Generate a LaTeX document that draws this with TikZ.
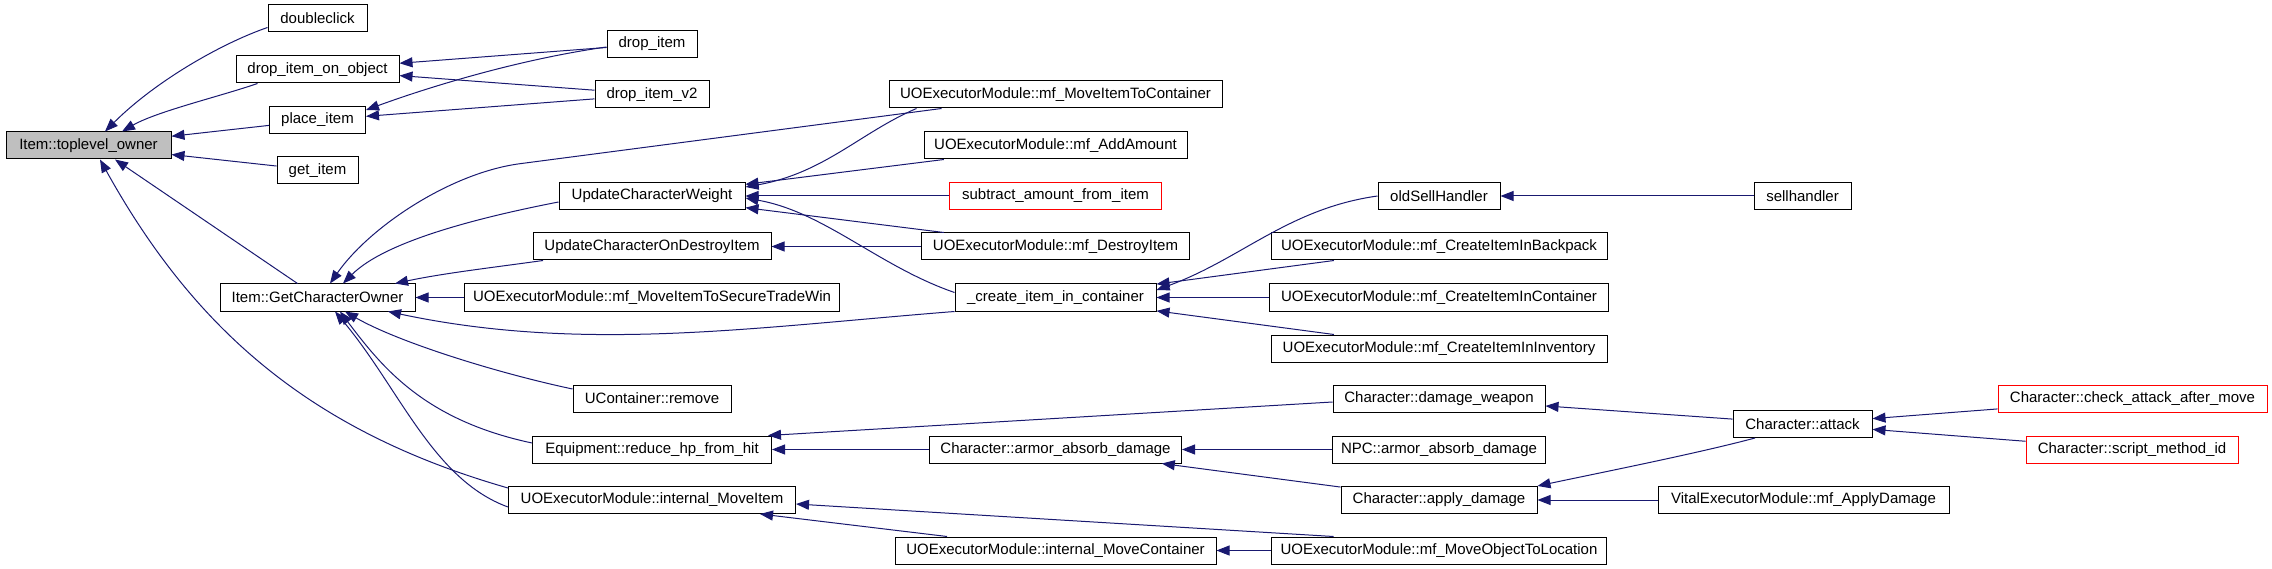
\documentclass[tikz,border=0pt]{standalone}
\usepackage{fontspec}
\setmainfont{Liberation Sans}
\usepackage{tikz}
\usetikzlibrary{arrows.meta}
\definecolor{edgeblue}{RGB}{25, 25, 112}
\definecolor{boxred}{RGB}{255, 0, 0}
\definecolor{boxgray}{RGB}{191, 191, 191}

\begin{document}
\begin{tikzpicture}[x=1pt, y=1pt,
  fn/.style={draw=black, line width=1pt, inner sep=0pt, minimum height=27,
    font=\fontsize{15}{18}\selectfont},
  undoc/.style={fn, draw=boxred},
  call/.style={draw=edgeblue, line width=1pt, -{Triangle[length=13pt, width=10pt]}}]
  \useasboundingbox (0,0) rectangle (2272,-569);

  % Column 0: the function itself
  \node[fn, fill=boxgray, minimum width=165] (toplevel) at (88.5,-145.5) {Item::toplevel\_owner};

  % Column 1
  \node[fn, minimum width=99]  (doubleclick) at (317.5,-18.5)  {doubleclick};
  \node[fn, minimum width=163] (dropobj)     at (317.5,-69.5)  {drop\_item\_on\_object};
  \node[fn, minimum width=96]  (placeitem)   at (317.5,-120)   {place\_item};
  \node[fn, minimum width=81]  (getitem)     at (317.5,-170.5) {get\_item};
  \node[fn, minimum width=195] (getowner)    at (317.5,-297.5) {Item::GetCharacterOwner};

  % Column 2
  \node[fn, minimum width=90]  (dropitem)     at (652,-44)    {drop\_item};
  \node[fn, minimum width=114] (dropitemtwo)  at (652,-94.5)  {drop\_item\_v2};
  \node[fn, minimum width=186] (weight)       at (652,-196)   {UpdateCharacterWeight};
  \node[fn, minimum width=238] (ondestroy)    at (652,-246.5) {UpdateCharacterOnDestroyItem};
  \node[fn, minimum width=375] (securetrade)  at (652,-297.5) {UOExecutorModule::mf\_MoveItemToSecureTradeWin};
  \node[fn, minimum width=158] (remove)       at (652,-398.5) {UContainer::remove};
  \node[fn, minimum width=239] (reducehp)     at (652,-449.5) {Equipment::reduce\_hp\_from\_hit};
  \node[fn, minimum width=287] (internalmove) at (652,-500)   {UOExecutorModule::internal\_MoveItem};

  % Column 3
  \node[fn, minimum width=333]    (movetocont)   at (1055.5,-94.5)  {UOExecutorModule::mf\_MoveItemToContainer};
  \node[fn, minimum width=263]    (addamount)    at (1055.5,-145.5) {UOExecutorModule::mf\_AddAmount};
  \node[undoc, minimum width=212] (subtract)     at (1055.5,-196)   {subtract\_amount\_from\_item};
  \node[fn, minimum width=268]    (destroyitem)  at (1055.5,-246.5) {UOExecutorModule::mf\_DestroyItem};
  \node[fn, minimum width=201]    (createitem)   at (1055.5,-297.5) {\_create\_item\_in\_container};
  \node[fn, minimum width=252]    (armorabsorb)  at (1055.5,-449.5) {Character::armor\_absorb\_damage};
  \node[fn, minimum width=321]    (internalcont) at (1055.5,-550.5) {UOExecutorModule::internal\_MoveContainer};

  % Column 4
  \node[fn, minimum width=122] (oldsell)    at (1439,-196)   {oldSellHandler};
  \node[fn, minimum width=336] (backpack)   at (1439,-246.5) {UOExecutorModule::mf\_CreateItemInBackpack};
  \node[fn, minimum width=339] (incont)     at (1439,-297.5) {UOExecutorModule::mf\_CreateItemInContainer};
  \node[fn, minimum width=336] (inventory)  at (1439,-348.5) {UOExecutorModule::mf\_CreateItemInInventory};
  \node[fn, minimum width=212] (dmgweapon)  at (1439,-398.5) {Character::damage\_weapon};
  \node[fn, minimum width=213] (npcarmor)   at (1439,-449.5) {NPC::armor\_absorb\_damage};
  \node[fn, minimum width=196] (applydmg)   at (1439,-500)   {Character::apply\_damage};
  \node[fn, minimum width=335] (moveobject) at (1439,-550.5) {UOExecutorModule::mf\_MoveObjectToLocation};

  % Column 5
  \node[fn, minimum width=97]  (sellhandler) at (1802.5,-196) {sellhandler};
  \node[fn, minimum width=139] (attack)      at (1802.5,-424) {Character::attack};
  \node[fn, minimum width=291] (vitalapply)  at (1803.5,-500) {VitalExecutorModule::mf\_ApplyDamage};

  % Column 6
  \node[undoc, minimum width=269] (checkattack) at (2132.5,-398.5) {Character::check\_attack\_after\_move};
  \node[undoc, minimum width=212] (scriptid)    at (2132,-449.5)   {Character::script\_method\_id};

  % Callers of Item::toplevel_owner
  \draw[call] ([yshift=-9]doubleclick.west) to[out=199, in=45, out distance=50, in distance=70] ([xshift=16.5]toplevel.north);
  \draw[call] ([xshift=-60]dropobj.south) to[out=199, in=30, out distance=40, in distance=40] ([xshift=33.5]toplevel.north);
  \draw[call] (placeitem) -- (toplevel);
  \draw[call] (getitem) -- (toplevel);
  \draw[call] ([xshift=-20]getowner.north) -- ([xshift=26.5]toplevel.south);
  \draw[call] ([yshift=12]internalmove.west) to[out=164, in=-61, out distance=200, in distance=200] ([xshift=11.5]toplevel.south);

  % Dropping items
  \draw[call] (dropitem) -- (dropobj);
  \draw[call] ([yshift=-3]dropitem.west) to[out=188, in=20, out distance=80, in distance=80] ([yshift=10]placeitem.east);
  \draw[call] (dropitemtwo) -- (dropobj);
  \draw[call] (dropitemtwo) -- (placeitem);

  % Callers of Item::GetCharacterOwner
  \draw[call] ([xshift=-114]movetocont.south) -- ++(-420,-55)
    to[out=187, in=55, out distance=70, in distance=70] ([xshift=12.5]getowner.north);
  \draw[call] ([yshift=-6]weight.west) to[out=191, in=45, out distance=80, in distance=60] ([xshift=25.5]getowner.north);
  \draw[call] ([xshift=-109]ondestroy.south) to[out=188, in=12, out distance=50, in distance=50] ([xshift=77.5]getowner.north);
  \draw[call] (securetrade) -- (getowner);
  \draw[call] (createitem.south west) to[out=184.5, in=-12, out distance=200, in distance=200] ([xshift=70.5]getowner.south);
  \draw[call] ([yshift=9.5]remove.west) to[out=168, in=-30, out distance=80, in distance=60] ([xshift=27.5]getowner.south);
  \draw[call] ([yshift=6.5]reducehp.west) to[out=168, in=-53, out distance=110, in distance=70] ([xshift=22.5]getowner.south);
  \draw[call] ([yshift=-7]internalmove.west) to[out=160, in=-50, out distance=80, in distance=100] ([xshift=17.5]getowner.south);

  % Callers of UpdateCharacterWeight
  \draw[call] ([xshift=-139]movetocont.south) to[out=203, in=10, out distance=60, in distance=80] ([yshift=9]weight.east);
  \draw[call] (addamount) -- (weight);
  \draw[call] (subtract) -- (weight);
  \draw[call] (destroyitem) -- (weight);
  \draw[call] ([yshift=5]createitem.west) to[out=161, in=-10, out distance=80, in distance=80] ([yshift=-2]weight.east);
  \draw[call] (destroyitem) -- (ondestroy);

  % Callers of _create_item_in_container
  \draw[call] (oldsell.west) to[out=188, in=20, out distance=90, in distance=90] ([yshift=7.5]createitem.east);
  \draw[call] (backpack) -- (createitem);
  \draw[call] (incont) -- (createitem);
  \draw[call] (inventory) -- (createitem);
  \draw[call] (sellhandler) -- (oldsell);

  % Damage chain
  \draw[call] ([yshift=-3.5]dmgweapon.west) -- ([xshift=-4]reducehp.north east);
  \draw[call] (armorabsorb) -- (reducehp);
  \draw[call] (npcarmor) -- (armorabsorb);
  \draw[call] (applydmg) -- (armorabsorb);
  \draw[call] (attack) -- (dmgweapon);
  \draw[call] ([xshift=-47.5]attack.south) to[out=195, in=12, out distance=60, in distance=60] ([yshift=14]applydmg.east);
  \draw[call] (vitalapply) -- (applydmg);
  \draw[call] (checkattack) -- (attack);
  \draw[call] (scriptid) -- (attack);

  % Moving items
  \draw[call] ([xshift=-105.5]moveobject.north) -- ([yshift=-4]internalmove.east);
  \draw[call] ([xshift=-108.5]internalcont.north) -- ([xshift=108]internalmove.south);
  \draw[call] (moveobject) -- (internalcont);
\end{tikzpicture}
\end{document}
